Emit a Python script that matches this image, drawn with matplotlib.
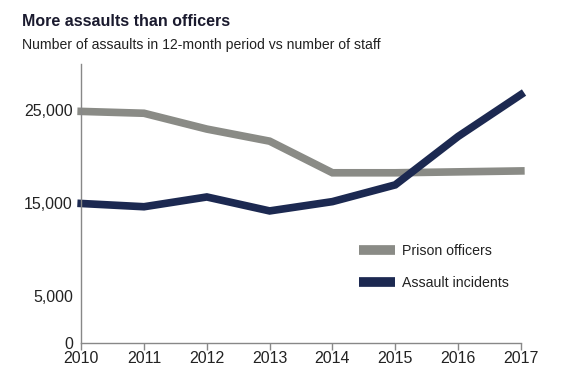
import matplotlib
matplotlib.use("Agg")
import matplotlib.pyplot as plt

years = [2010, 2011, 2012, 2013, 2014, 2015, 2016, 2017]
prison_officers = [24900, 24700, 23000, 21700, 18300, 18300, 18400, 18500]
assault_incidents = [15000, 14650, 15700, 14200, 15200, 17000, 22200, 26700]
y_ticks = [0, 5000, 15000, 25000]
y_labels = ["0", "5,000", "15,000", "25,000"]

plt.rcParams['font.family'] = ['Liberation Sans', 'DejaVu Sans']

gray = "#8a8b86"
navy = "#1c2951"

fig = plt.figure(figsize=(5.8, 3.9), dpi=100)
ax = fig.add_axes([0.14, 0.1205, 0.758, 0.7155])

ax.plot(years, prison_officers, color=gray, lw=5.5, solid_joinstyle='miter', label="Prison officers")
ax.plot(years, assault_incidents, color=navy, lw=5.5, solid_joinstyle='miter', label="Assault incidents")

ax.set_xlim(2010, 2017)
ax.set_ylim(0, 30000)
ax.set_xticks(years)
ax.set_xticklabels([str(y) for y in years], fontsize=11.5, color="#222222")
ax.set_yticks(y_ticks)
ax.set_yticklabels(y_labels, fontsize=11.5, color="#222222")
ax.tick_params(axis='y', length=0, pad=6)
ax.tick_params(axis='x', length=5, width=1, color="#888888", pad=1)
for s in ['top', 'right']:
    ax.spines[s].set_visible(False)
for s in ['left', 'bottom']:
    ax.spines[s].set_color("#888888")
    ax.spines[s].set_linewidth(1)
for l in ax.lines:
    l.set_clip_on(False)

leg = ax.legend(loc='upper left', bbox_to_anchor=(0.602, 0.40), frameon=False,
                fontsize=10.2, handlelength=2.6, handletextpad=0.45, labelspacing=1.25)
for t in leg.get_texts():
    t.set_color("#222222")
for h in leg.get_lines():
    h.set_linewidth(7)
    h.set_solid_capstyle('butt')

fig.text(0.038, 0.945, "More assaults than officers", fontsize=11.5, fontweight='bold',
         color="#1a1a2e", va='center', ha='left')
fig.text(0.038, 0.885, "Number of assaults in 12-month period vs number of staff", fontsize=10.1,
         color="#222222", va='center', ha='left')

fig.savefig("out.png", dpi=100, facecolor="white")
